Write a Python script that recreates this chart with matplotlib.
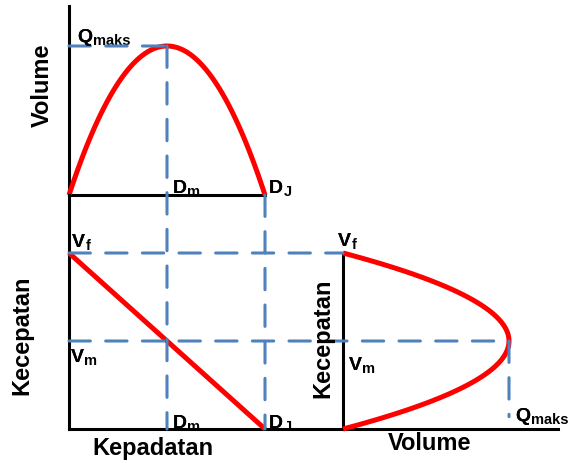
import numpy as np
import matplotlib
matplotlib.use("Agg")
import matplotlib.pyplot as plt
from matplotlib.patches import ConnectionPatch

# Greenshields model parameters (normalised)
vf = 1.0          # free-flow speed
kj = 1.0          # jam density
km = kj / 2       # density at max flow
vm = vf / 2       # speed at max flow
qmax = vf * kj / 4

density = np.linspace(0, kj, 100)
speed = vf * (1 - density / kj)
volume = density * speed

plt.rcParams["font.family"] = ["Liberation Sans", "DejaVu Sans"]
plt.rcParams["font.weight"] = "bold"

W, H = 571, 464
fig = plt.figure(figsize=(W / 100, H / 100), dpi=100)


def box(x0, y0, x1, y1):
    return [x0 / W, 1 - y1 / H, (x1 - x0) / W, (y1 - y0) / H]


def px(x, y):
    return x / W, 1 - y / H


def sublabel(x, y, main, sub):
    # main letter with a bold subscript right after it
    t = fig.text(*px(x, y), main, fontsize=14)
    fig.add_artist(t)
    plt.annotate(sub, xy=(1, 0), xycoords=t, xytext=(0.3, 1.0),
                 textcoords="offset points", fontsize=10.5,
                 fontweight="bold", va="baseline", ha="left",
                 annotation_clip=False)


red = "#ff0000"
blue = "#4f81bd"
dash = (0, (7, 5))
axlw = 2.2

# top: volume vs density
ax_t = fig.add_axes(box(69, 7, 265, 196))
ax_t.set_xlim(0, kj)
ax_t.set_ylim(0, qmax * 189 / 149)
# bottom left: speed vs density
ax_l = fig.add_axes(box(69, 196, 558, 430))
ax_l.set_xlim(0, kj * 489 / 196)
ax_l.set_ylim(0, vf * 234 / 176)
# bottom right: speed vs volume
ax_r = fig.add_axes(box(343, 254, 558, 430))
ax_r.set_xlim(0, qmax * 215 / 166)
ax_r.set_ylim(0, vf)

for ax in (ax_t, ax_l, ax_r):
    ax.set_facecolor("none")
    ax.set_xticks([])
    ax.set_yticks([])
    for s in ax.spines.values():
        s.set_visible(False)
    ax.spines["left"].set_visible(True)
    ax.spines["left"].set_linewidth(axlw)
for ax in (ax_t, ax_l):
    ax.spines["bottom"].set_visible(True)
    ax.spines["bottom"].set_linewidth(axlw)

# dashed guide lines
guides = [
    ((0, qmax), ax_t, (km, qmax), ax_t),
    ((km, qmax), ax_t, (km, 0), ax_l),
    ((kj, 0), ax_t, (kj, 0), ax_l),
    ((0, vf), ax_l, (0, vf), ax_r),
    ((0, vm), ax_l, (qmax, vm), ax_r),
    ((qmax, vm), ax_r, (qmax, 0.07), ax_r),
]
for a, axa, b, axb in guides:
    cp = ConnectionPatch(xyA=a, coordsA=axa.transData, xyB=b, coordsB=axb.transData,
                         color=blue, linewidth=2.2, linestyle=dash, zorder=1)
    fig.add_artist(cp)

# red curves
ax_t.plot(density, volume, color=red, lw=3.6, clip_on=False, zorder=3, solid_capstyle="butt")
ax_l.plot(density, speed, color=red, lw=3.6, clip_on=False, zorder=3, solid_capstyle="butt")
ax_r.plot(volume, speed, color=red, lw=3.6, clip_on=False, zorder=3, solid_capstyle="butt")

# labels
sublabel(77, 42, "Q", "maks")
sublabel(173, 193, "D", "m")
sublabel(269, 193, "D", "J")
sublabel(72, 247, "V", "f")
sublabel(71, 362, "V", "m")
sublabel(173, 428, "D", "m")
sublabel(269, 428, "D", "J")
sublabel(338, 246, "V", "f")
sublabel(349, 370, "V", "m")
sublabel(515, 421, "Q", "maks")

fig.text(*px(42, 85), "Volume", fontsize=17, rotation=90, ha="center", va="center")
fig.text(*px(22, 335), "Kecepatan", fontsize=17, rotation=90, ha="center", va="center")
fig.text(*px(323, 338), "Kecepatan", fontsize=17, rotation=90, ha="center", va="center")
fig.text(*px(153, 449), "Kepadatan", fontsize=17, ha="center", va="center")
fig.text(*px(430, 444), "Volume", fontsize=17, ha="center", va="center")

fig.savefig("out.png", dpi=100)
